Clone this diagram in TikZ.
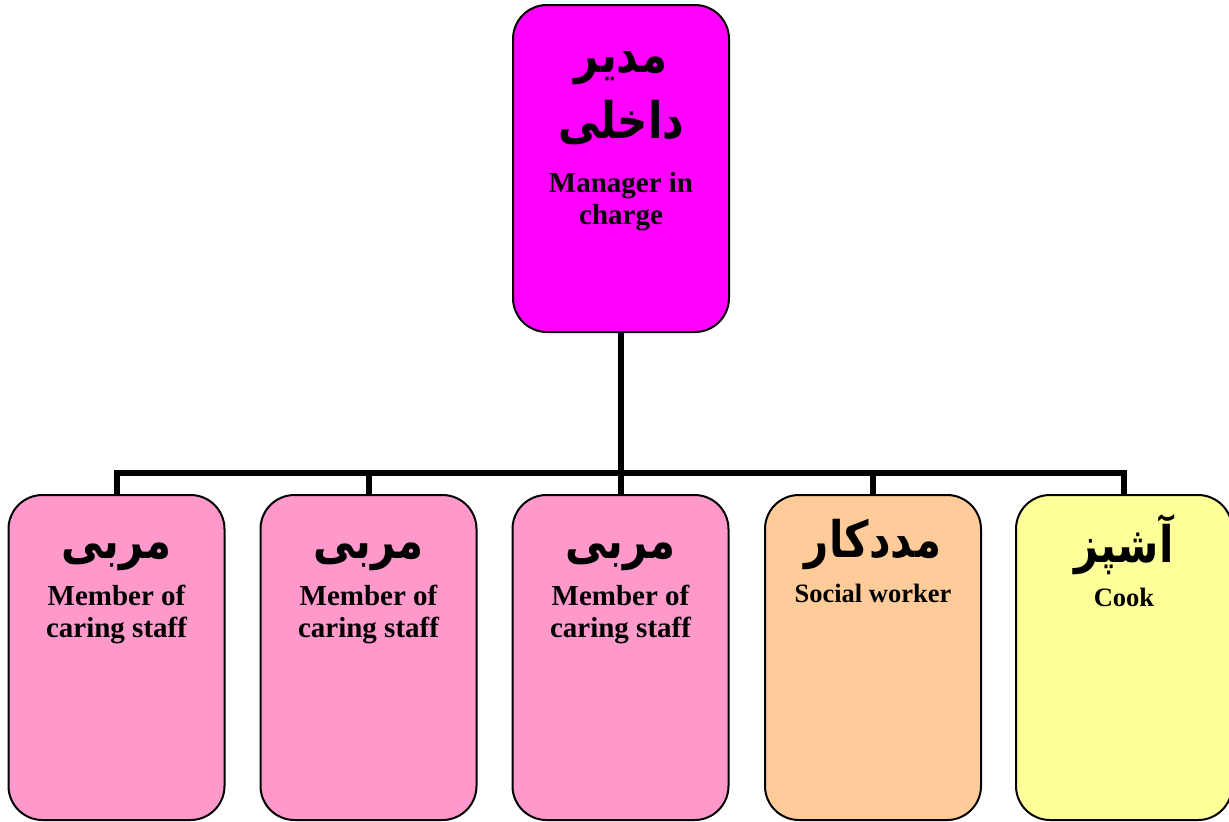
\documentclass[tikz,border=0pt]{standalone}
\usepackage{fontspec}
\setmainfont{Liberation Serif}
\newfontfamily\arabicfont[Script=Arabic]{DejaVu Sans}
\TeXXeTstate=1
\definecolor{topmag}{HTML}{FF00FF}
\definecolor{pinkbox}{HTML}{FF99CC}
\definecolor{orangebox}{HTML}{FFCC99}
\definecolor{yellowbox}{HTML}{FFFF99}
\newcommand{\artext}[1]{\scalebox{1}[1.2]{\beginR #1\endR}}
\tikzset{
  orgbox/.style={draw=black, line width=2pt, rounded corners=34pt, minimum width=216pt, inner sep=0pt},
  topbox/.style={orgbox, fill=topmag, minimum height=327pt},
  lowbox/.style={orgbox, minimum height=325pt},
  conn/.style={line width=6pt, line join=miter},
  en/.style={font=\fontsize{29}{32}\selectfont\bfseries, anchor=base, inner sep=0pt},
  ensmall/.style={font=\fontsize{26.5}{30}\selectfont\bfseries, anchor=base, inner sep=0pt},
  ar/.style={font=\fontsize{42}{46}\selectfont\arabicfont\bfseries, anchor=base, inner sep=0pt}
}
\begin{document}
\begin{tikzpicture}[x=1pt,y=-1pt]
\useasboundingbox (0,0) rectangle (1229,822);
% boxes
\node[topbox] (top) at (621,168.5) {};
\node[lowbox, fill=pinkbox] (b1) at (116.5,657.5) {};
\node[lowbox, fill=pinkbox] (b2) at (368.5,657.5) {};
\node[lowbox, fill=pinkbox] (b3) at (620.5,657.5) {};
\node[lowbox, fill=orangebox] (b4) at (873,657.5) {};
\node[lowbox, fill=yellowbox] (b5) at (1124,657.5) {};
% connectors
\coordinate (bus) at (621,473);
\draw[conn] (top.south) -- (top.south |- bus);
\draw[conn] (b1.north) -- (b1.north |- bus) -- (b5.north |- bus) -- (b5.north);
\draw[conn] (b2.north) -- (b2.north |- bus);
\draw[conn] (b3.north) -- (b3.north |- bus);
\draw[conn] (b4.north) -- (b4.north |- bus);
% texts top
\node[ar] (t1) at (621,72) {\artext{مدیر}};
\node[ar] (t2) at (621,138) {\artext{داخلی}};
\node[en] (t3) at (621,192) {Manager in};
\node[en] (t4) at (621,224) {charge};
% texts bottom
\node[ar] (a1) at (116.5,558) {\artext{مربی}};
\node[en] (e1a) at (116.5,605) {Member of};
\node[en] (e1b) at (116.5,637) {caring staff};
\node[ar] (a2) at (368.5,558) {\artext{مربی}};
\node[en] (e2a) at (368.5,605) {Member of};
\node[en] (e2b) at (368.5,637) {caring staff};
\node[ar] (a3) at (620.5,558) {\artext{مربی}};
\node[en] (e3a) at (620.5,605) {Member of};
\node[en] (e3b) at (620.5,637) {caring staff};
\node[ar] (a4) at (873,557) {\artext{مددکار}};
\node[ensmall] (e4) at (873,602) {Social worker};
\node[ar] (a5) at (1124,562) {\artext{آشپز}};
\node[ensmall] (e5) at (1124,606) {Cook};
\end{tikzpicture}
\end{document}
